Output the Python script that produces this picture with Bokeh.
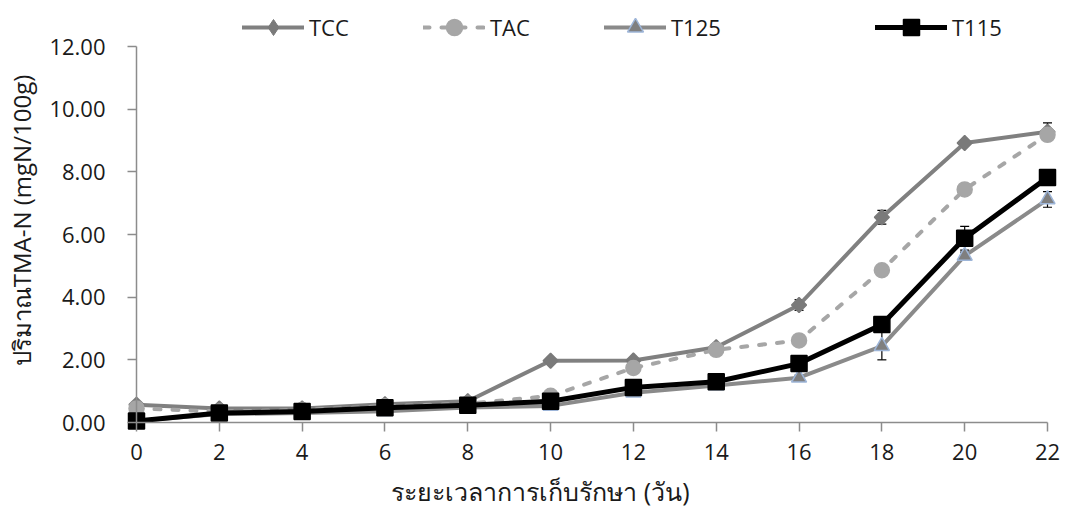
import math

from bokeh.embed import file_html
from bokeh.models import (ColumnDataSource, FixedTicker, Label, Legend,
                          LegendItem, LinearAxis, NumeralTickFormatter,
                          Range1d, TeeHead, Whisker)
from bokeh.plotting import figure
from bokeh.resources import INLINE

# Storage time (days) and TMA-N content (mgN/100g) for each treatment
days = [0, 2, 4, 6, 8, 10, 12, 14, 16, 18, 20, 22]
y_ticks = [0, 2, 4, 6, 8, 10, 12]

tcc = [0.57, 0.45, 0.45, 0.58, 0.68, 1.97, 1.98, 2.40, 3.75, 6.55, 8.92, 9.28]
tac = [0.45, 0.35, 0.40, 0.52, 0.60, 0.85, 1.74, 2.32, 2.62, 4.86, 7.44, 9.18]
t125 = [0.05, 0.27, 0.30, 0.36, 0.48, 0.53, 0.95, 1.18, 1.43, 2.44, 5.32, 7.12]
t115 = [0.05, 0.30, 0.35, 0.47, 0.55, 0.68, 1.12, 1.30, 1.88, 3.13, 5.88, 7.82]

# standard deviations
tcc_sd = [0.05, 0.02, 0.02, 0.03, 0.03, 0.05, 0.05, 0.08, 0.17, 0.22, 0.08, 0.28]
tac_sd = [0.03, 0.02, 0.02, 0.02, 0.03, 0.05, 0.05, 0.05, 0.08, 0.10, 0.10, 0.15]
t125_sd = [0.01, 0.02, 0.02, 0.02, 0.03, 0.05, 0.05, 0.05, 0.08, 0.44, 0.12, 0.25]
t115_sd = [0.01, 0.02, 0.02, 0.02, 0.03, 0.05, 0.06, 0.06, 0.10, 0.20, 0.38, 0.20]

x_title = "ระยะเวลาการเก็บรักษา (วัน)"
y_title = "ปริมาณTMA-N (mgN/100g)"

FONT = "Open Sans"
TXT = "#1a1a1a"
AXIS_GREY = "#8c8c8c"

W, H = 1066, 520
# plot area in pixels: day 0 at x=136, day 22 at x=1047; 0 at y=422, 12 at y=46
px_x0, px_x1 = 136, 1047
px_y0, px_y1 = 422, 46
sx = (px_x1 - px_x0) / (days[-1] - days[0])
sy = (px_y0 - px_y1) / (y_ticks[-1] - y_ticks[0])
x_range = Range1d(days[0] - px_x0 / sx, days[-1] + (W - px_x1) / sx)
y_range = Range1d(y_ticks[0] - (H - px_y0) / sy, y_ticks[-1] + px_y1 / sy)

p = figure(width=W, height=H, output_backend="svg", toolbar_location=None,
           x_range=x_range, y_range=y_range,
           x_axis_location=None, y_axis_location=None,
           min_border=0, outline_line_color=None)
p.grid.visible = False
p.background_fill_color = "white"
p.border_fill_color = "white"

xaxis = LinearAxis(fixed_location=0, bounds=(days[0], days[-1]),
                   ticker=FixedTicker(ticks=days))
yaxis = LinearAxis(fixed_location=0, bounds=(y_ticks[0], y_ticks[-1]),
                   ticker=FixedTicker(ticks=y_ticks),
                   formatter=NumeralTickFormatter(format="0.00"))
for ax in (xaxis, yaxis):
    ax.axis_line_color = AXIS_GREY
    ax.axis_line_width = 1.5
    ax.major_tick_line_color = AXIS_GREY
    ax.major_tick_line_width = 1.5
    ax.major_tick_in = 0
    ax.major_tick_out = 9
    ax.minor_tick_line_color = None
    ax.major_label_text_font = FONT
    ax.major_label_text_font_size = "22px"
    ax.major_label_text_color = TXT
xaxis.major_label_standoff = 12
yaxis.major_label_standoff = 22
p.add_layout(xaxis, "below")
p.add_layout(yaxis, "left")

# axis titles, centred on the chart area
p.add_layout(Label(x=540, y=H - 490, x_units="screen", y_units="screen",
                   text=x_title, text_align="center", text_baseline="middle",
                   text_font=FONT, text_font_size="25px", text_color=TXT))
p.add_layout(Label(x=21, y=H - 220, x_units="screen", y_units="screen",
                   text=y_title, angle=math.pi / 2,
                   text_align="center", text_baseline="middle",
                   text_font=FONT, text_font_size="24px", text_color=TXT))


def series(vals, sd, line_color, line_width, marker, size, fill, outline,
           dash="solid", angle=0.0, key_marker=None):
    src = ColumnDataSource(dict(x=days, y=vals,
                                lo=[v - e for v, e in zip(vals, sd)],
                                hi=[v + e for v, e in zip(vals, sd)]))
    ln = p.line("x", "y", source=src, line_color=line_color,
                line_width=line_width, line_dash=dash,
                line_join="round", line_cap="round")
    out = [ln]
    if key_marker is not None:
        # narrower swatch marker for the legend, hidden under the real points
        out.append(p.scatter("x", "y", source=src, marker=key_marker,
                             size=size * 1.38, fill_color=fill,
                             line_color=outline))
    mk = p.scatter("x", "y", source=src, marker=marker, size=size,
                   fill_color=fill, line_color=outline, line_width=1.5,
                   angle=angle)
    if key_marker is None:
        out.append(mk)
    wh = Whisker(base="x", lower="lo", upper="hi", source=src,
                 line_color="black", line_width=1.2,
                 lower_head=TeeHead(size=9, line_color="black", line_width=1.2),
                 upper_head=TeeHead(size=9, line_color="black", line_width=1.2))
    p.add_layout(wh)
    return out


# TCC points are squares turned 45 degrees (diamonds)
r_tcc = series(tcc, tcc_sd, "#808080", 4, "square", 10.5, "#7a7a7a", "#7a7a7a",
               angle=math.pi / 4, key_marker="diamond")
r_tac = series(tac, tac_sd, "#a6a6a6", 4, "circle", 15, "#a6a6a6", "#a6a6a6",
               dash="6 12")
r_t125 = series(t125, t125_sd, "#8a8a8a", 4, "triangle", 15, "#7f7f7f", "#9db5d8")
r_t115 = series(t115, t115_sd, "black", 5, "square", 16, "black", "black")

GLYPH_H = 40


def make_legend(items, x, glyph_w, label_w, spacing):
    lg = Legend(items=items, orientation="horizontal",
                location=(x, H - 27 - GLYPH_H // 2),
                glyph_width=glyph_w, glyph_height=GLYPH_H,
                label_standoff=5, label_width=label_w, spacing=spacing,
                padding=0, margin=0, border_line_color=None,
                background_fill_alpha=0,
                label_text_font=FONT, label_text_font_size="22px",
                label_text_color=TXT)
    p.add_layout(lg)


make_legend([LegendItem(label="TCC", renderers=r_tcc),
             LegendItem(label="TAC", renderers=r_tac),
             LegendItem(label="T125", renderers=r_t125)],
            242, 62, 60, 54)
make_legend([LegendItem(label="T115", renderers=r_t115)], 875, 72, 55, 0)

open("out.html", "w").write(file_html(p, INLINE))
